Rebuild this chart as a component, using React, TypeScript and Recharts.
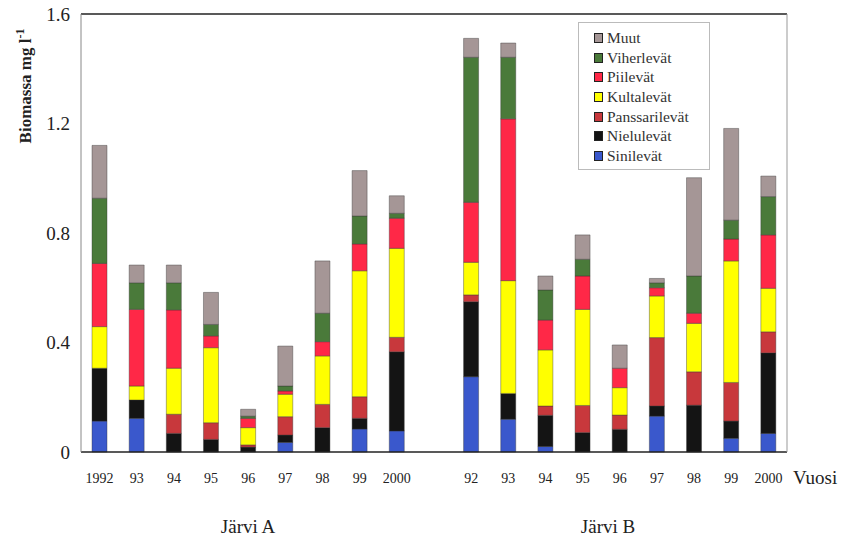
import { BarChart, Bar, XAxis, YAxis, ReferenceLine } from 'recharts';

// Categories: Järvi A 1992-2000, empty gap, Järvi B 1992-2000
const yearLabels = ['1992', '93', '94', '95', '96', '97', '98', '99', '2000', '', '92', '93', '94', '95', '96', '97', '98', '99', '2000'];

const sinilevat = [0.113, 0.123, 0, 0, 0, 0.035, 0, 0.084, 0.077, 0, 0.275, 0.12, 0.02, 0, 0, 0.131, 0, 0.05, 0.068];
const nielulevat = [0.193, 0.067, 0.068, 0.046, 0.018, 0.027, 0.089, 0.039, 0.289, 0, 0.274, 0.094, 0.114, 0.071, 0.083, 0.037, 0.171, 0.063, 0.294];
const panssarilevat = [0, 0, 0.07, 0.061, 0.008, 0.067, 0.085, 0.079, 0.053, 0, 0.025, 0, 0.034, 0.099, 0.052, 0.25, 0.122, 0.141, 0.077];
const kultalevat = [0.152, 0.051, 0.168, 0.274, 0.063, 0.082, 0.177, 0.46, 0.325, 0, 0.119, 0.412, 0.205, 0.351, 0.1, 0.152, 0.177, 0.444, 0.159];
const piilevat = [0.231, 0.28, 0.213, 0.043, 0.034, 0.012, 0.052, 0.098, 0.11, 0, 0.219, 0.591, 0.109, 0.122, 0.071, 0.03, 0.037, 0.08, 0.195];
const viherlevat = [0.238, 0.097, 0.099, 0.042, 0.008, 0.018, 0.104, 0.102, 0.018, 0, 0.53, 0.225, 0.11, 0.061, 0, 0.018, 0.136, 0.069, 0.14];
const muut = [0.193, 0.065, 0.065, 0.117, 0.025, 0.146, 0.191, 0.166, 0.064, 0, 0.069, 0.052, 0.051, 0.089, 0.085, 0.016, 0.359, 0.335, 0.075];

const yTicks = [0, 0.4, 0.8, 1.2, 1.6];

const series = [
  { key: 'sini', name: 'Sinilevät', values: sinilevat, color: '#3a58cc' },
  { key: 'nielu', name: 'Nielulevät', values: nielulevat, color: '#141414' },
  { key: 'panssari', name: 'Panssarilevät', values: panssarilevat, color: '#c8383c' },
  { key: 'kulta', name: 'Kultalevät', values: kultalevat, color: '#ffff00' },
  { key: 'piile', name: 'Piilevät', values: piilevat, color: '#ff2847' },
  { key: 'viher', name: 'Viherlevät', values: viherlevat, color: '#4a7a3a' },
  { key: 'muut', name: 'Muut', values: muut, color: '#a59696' },
];

const data = yearLabels.map((label, i) => {
  const row: Record<string, number | string> = { id: 'c' + i, label };
  series.forEach((s) => {
    row[s.key] = s.values[i];
  });
  return row;
});

const serifFont = "'Times New Roman', 'Liberation Serif', Tinos, 'DejaVu Serif', 'Noto Serif', serif";

const LegendBox = () => (
  <div
    style={{
      position: 'absolute',
      left: 578,
      top: 22,
      width: 132,
      height: 148,
      border: '1px solid #bbb',
      background: '#fff',
      padding: '5px 0 0 15px',
      boxSizing: 'border-box',
      fontFamily: serifFont,
      fontSize: 15.5,
      color: '#333',
    }}
  >
    {[...series].reverse().map((s) => (
      <div key={s.key} style={{ display: 'flex', alignItems: 'center', height: 19.7, whiteSpace: 'nowrap' }}>
        <span
          style={{
            display: 'inline-block',
            width: 7,
            height: 8,
            background: s.color,
            border: '1px solid #222',
            marginRight: 4,
          }}
        />
        {s.name}
      </div>
    ))}
  </div>
);

export default function App() {
  return (
    <div style={{ position: 'absolute', left: 0, top: 0, width: 853, height: 536, background: '#fff' }}>
      <BarChart
        width={853}
        height={536}
        data={data}
        barSize={15}
        margin={{ top: 14, right: 65, bottom: 54, left: 41 }}
      >
        <XAxis
          dataKey="id"
          tickFormatter={(v, i) => yearLabels[i]}
          interval={0}
          tickLine={false}
          tickSize={0}
          tickMargin={21}
          height={30}
          axisLine={{ stroke: '#222', strokeWidth: 1.5 }}
          tick={{ fill: '#222', fontFamily: serifFont, fontSize: 14 }}
        />
        <YAxis
          domain={[0, 1.6]}
          ticks={yTicks}
          width={40}
          tickLine={false}
          tickSize={0}
          tickMargin={11}
          axisLine={{ stroke: '#888', strokeWidth: 1 }}
          tick={{ fill: '#222', fontFamily: serifFont, fontSize: 19 }}
        />
        <YAxis
          yAxisId="right"
          orientation="right"
          domain={[0, 1.6]}
          width={1}
          tick={false}
          tickLine={false}
          axisLine={{ stroke: '#999', strokeWidth: 1 }}
        />
        <ReferenceLine y={1.6} stroke="#222" strokeWidth={1.5} />
        {series.map((s) => (
          <Bar
            key={s.key}
            dataKey={s.key}
            name={s.name}
            stackId="a"
            fill={s.color}
            stroke="#333"
            strokeWidth={0.4}
            isAnimationActive={false}
          />
        ))}
      </BarChart>
      <LegendBox />
      <svg
        width={853}
        height={536}
        style={{ position: 'absolute', left: 0, top: 0, pointerEvents: 'none' }}
      >
        <text
          transform="translate(31, 86) rotate(-90)"
          textAnchor="middle"
          fontFamily={serifFont}
          fontWeight="bold"
          fontSize={17}
          fill="#222"
        >
          Biomassa mg l
          <tspan fontSize={12} dy={-7}>-1</tspan>
        </text>
        <text x={793} y={484} fontFamily={serifFont} fontSize={19} fill="#222">
          Vuosi
        </text>
        <text x={248} y={533} textAnchor="middle" fontFamily={serifFont} fontSize={19} fill="#222">
          Järvi A
        </text>
        <text x={608} y={533} textAnchor="middle" fontFamily={serifFont} fontSize={19} fill="#222">
          Järvi B
        </text>
      </svg>
    </div>
  );
}
